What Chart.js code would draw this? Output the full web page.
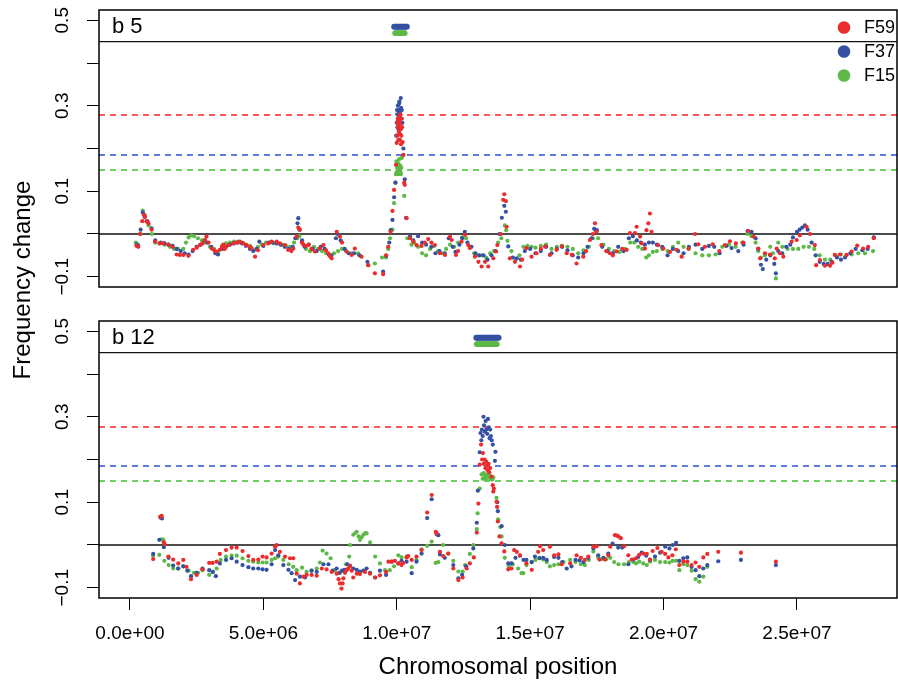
<!DOCTYPE html>
<html>
<head>
<meta charset="utf-8">
<script src="https://cdn.jsdelivr.net/npm/chart.js@4.4.0/dist/chart.umd.min.js"></script>
<style>
  html, body { margin: 0; padding: 0; background: #fff; }
  #wrap { position: relative; width: 898px; height: 686px; overflow: hidden; }
  canvas { position: absolute; left: 0; }
  #ytitle {
    position: absolute; left: -128px; top: 266px; width: 300px; height: 28px;
    line-height: 28px; text-align: center; color: #000;
    font: 24px "Liberation Sans", Arial, Helvetica, sans-serif;
    transform: rotate(-90deg);
  }
</style>
</head>
<body>
<div id="wrap">
  <canvas id="c1" width="898" height="300" style="top:0px"></canvas>
  <canvas id="c2" width="898" height="386" style="top:300px"></canvas>
  <div id="ytitle">Frequency change</div>
</div>
<script>
// series names (legend order) - positions in Mb, values = frequency change
const seriesNames = ['F59', 'F37', 'F15'];

// ---- chromosome b 5 ----
const b5_F59 = [[0.25,-0.028],[0.31,-0.03],[0.38,0.0],[0.46,0.03],[0.52,0.045],[0.56,0.04],[0.62,0.03],[0.69,0.025],[0.81,0.01],[0.94,-0.018],[1.12,-0.022],[1.24,-0.022],[1.44,-0.025],[1.6,-0.03],[1.75,-0.048],[1.87,-0.049],[2.0,-0.049],[2.19,-0.051],[2.37,-0.037],[2.5,-0.032],[2.62,-0.026],[2.72,-0.022],[2.81,-0.014],[2.87,-0.006],[2.95,-0.02],[3.06,-0.034],[3.16,-0.038],[3.25,-0.041],[3.37,-0.037],[3.45,-0.03],[3.5,-0.025],[3.55,-0.035],[3.6,-0.03],[3.7,-0.026],[3.87,-0.022],[4.0,-0.02],[4.12,-0.018],[4.25,-0.022],[4.37,-0.026],[4.5,-0.03],[4.56,-0.033],[4.69,-0.053],[4.8,-0.038],[5.0,-0.026],[5.18,-0.022],[5.31,-0.018],[5.5,-0.018],[5.62,-0.022],[5.81,-0.026],[5.93,-0.037],[6.05,-0.04],[6.12,-0.034],[6.25,-0.006],[6.31,0.015],[6.37,0.01],[6.45,-0.02],[6.5,-0.025],[6.6,-0.028],[6.7,-0.025],[6.8,-0.035],[6.93,-0.041],[7.12,-0.034],[7.25,-0.026],[7.35,-0.038],[7.43,-0.045],[7.5,-0.052],[7.56,-0.057],[7.75,0.005],[7.87,-0.006],[7.95,-0.02],[8.12,-0.041],[8.31,-0.049],[8.43,-0.034],[8.68,-0.053],[8.93,-0.073],[9.18,-0.092],[9.49,-0.094],[9.6,-0.05],[9.68,-0.03],[9.77,0.005],[9.84,0.054],[9.9,0.103],[9.97,0.162],[10.0,0.213],[10.01,0.26],[10.02,0.23],[10.04,0.27],[10.05,0.25],[10.06,0.22],[10.07,0.265],[10.08,0.24],[10.09,0.255],[10.1,0.275],[10.11,0.235],[10.12,0.22],[10.13,0.26],[10.14,0.28],[10.15,0.245],[10.16,0.21],[10.17,0.23],[10.19,0.27],[10.2,0.25],[10.22,0.215],[10.25,0.185],[10.28,0.12],[10.3,0.115],[10.37,0.037],[10.5,-0.01],[10.62,-0.018],[10.74,-0.026],[10.93,-0.028],[11.05,-0.02],[11.18,-0.012],[11.3,-0.02],[11.43,-0.026],[11.62,-0.045],[11.81,-0.049],[12.0,-0.006],[12.06,-0.014],[12.22,-0.049],[12.3,-0.04],[12.43,-0.018],[12.56,-0.002],[12.68,-0.026],[12.74,-0.033],[12.93,-0.053],[13.06,-0.065],[13.18,-0.076],[13.31,-0.065],[13.43,-0.076],[13.62,-0.057],[13.72,-0.041],[13.77,-0.026],[13.9,0.0],[13.99,0.08],[14.03,0.093],[14.09,0.077],[14.12,0.017],[14.24,-0.057],[14.43,-0.065],[14.62,-0.076],[14.7,-0.06],[14.86,-0.033],[15.05,-0.053],[15.24,-0.045],[15.4,-0.035],[15.56,-0.029],[15.74,-0.049],[15.99,-0.037],[16.18,-0.029],[16.37,-0.045],[16.56,-0.049],[16.74,-0.069],[16.99,-0.053],[17.1,-0.04],[17.24,-0.014],[17.35,0.0],[17.43,0.025],[17.49,0.005],[17.67,-0.026],[17.85,-0.04],[17.99,-0.045],[18.1,-0.05],[18.24,-0.041],[18.45,-0.035],[18.62,-0.037],[18.74,0.002],[18.93,0.002],[18.99,0.017],[19.12,-0.006],[19.18,-0.022],[19.3,-0.034],[19.36,0.009],[19.43,0.025],[19.49,0.048],[19.55,0.005],[19.8,-0.026],[19.99,-0.034],[20.24,-0.042],[20.49,-0.037],[20.68,-0.053],[20.93,-0.034],[21.18,0.0],[21.3,-0.024],[21.55,-0.03],[21.84,-0.024],[22.09,-0.04],[22.3,-0.026],[22.49,-0.017],[22.71,-0.022],[22.99,-0.02],[23.18,0.007],[23.37,-0.006],[23.55,-0.034],[23.62,-0.057],[23.8,-0.045],[23.99,-0.048],[24.17,-0.057],[24.24,-0.034],[24.36,-0.045],[24.49,-0.053],[24.8,-0.018],[24.99,-0.014],[25.11,-0.003],[25.36,0.017],[25.49,0.0],[25.67,-0.026],[25.72,-0.073],[25.86,-0.061],[26.05,-0.074],[26.24,-0.074],[26.33,-0.067],[26.42,-0.049],[26.61,-0.048],[26.86,-0.049],[27.05,-0.041],[27.26,-0.027],[27.48,-0.034],[27.67,-0.03],[27.88,-0.01]];

const b5_F37 = [[0.25,-0.025],[0.31,-0.028],[0.4,0.01],[0.48,0.05],[0.55,0.04],[0.65,0.03],[0.81,0.013],[0.95,-0.015],[1.15,-0.02],[1.3,-0.022],[1.45,-0.025],[1.6,-0.028],[1.75,-0.035],[1.9,-0.04],[2.05,-0.045],[2.2,-0.048],[2.35,-0.04],[2.5,-0.03],[2.65,-0.025],[2.8,-0.015],[2.9,-0.02],[3.05,-0.03],[3.2,-0.045],[3.3,-0.048],[3.45,-0.035],[3.6,-0.03],[3.75,-0.025],[3.9,-0.022],[4.05,-0.02],[4.2,-0.022],[4.35,-0.028],[4.5,-0.035],[4.62,-0.04],[4.75,-0.035],[4.85,-0.018],[5.0,-0.028],[5.2,-0.02],[5.35,-0.02],[5.5,-0.022],[5.65,-0.025],[5.8,-0.03],[5.95,-0.035],[6.1,-0.03],[6.2,-0.01],[6.28,0.025],[6.31,0.037],[6.35,0.01],[6.45,-0.015],[6.55,-0.03],[6.7,-0.025],[6.85,-0.035],[7.0,-0.04],[7.15,-0.03],[7.3,-0.035],[7.45,-0.048],[7.55,-0.05],[7.72,-0.01],[7.78,0.0],[7.9,-0.015],[8.05,-0.035],[8.2,-0.045],[8.4,-0.045],[8.6,-0.05],[8.9,-0.065],[9.49,-0.088],[9.6,-0.051],[9.72,-0.02],[9.77,0.009],[9.84,0.033],[9.9,0.086],[9.95,0.12],[9.98,0.23],[10.0,0.26],[10.01,0.29],[10.02,0.28],[10.03,0.25],[10.04,0.3],[10.05,0.265],[10.06,0.27],[10.07,0.245],[10.08,0.29],[10.09,0.305],[10.1,0.31],[10.11,0.285],[10.12,0.28],[10.13,0.26],[10.15,0.318],[10.16,0.295],[10.17,0.27],[10.19,0.29],[10.21,0.26],[10.25,0.2],[10.3,0.128],[10.35,0.038],[10.5,-0.005],[10.62,-0.015],[10.8,-0.005],[10.95,-0.02],[11.1,-0.025],[11.3,-0.03],[11.45,-0.045],[11.6,-0.04],[11.8,-0.045],[11.95,-0.01],[12.1,-0.03],[12.2,-0.042],[12.35,-0.025],[12.45,-0.01],[12.55,0.005],[12.65,-0.02],[12.8,-0.03],[12.95,-0.045],[13.1,-0.05],[13.25,-0.05],[13.4,-0.06],[13.55,-0.05],[13.7,-0.04],[13.85,0.0],[13.94,0.038],[14.03,0.066],[14.09,0.052],[14.18,-0.029],[14.35,-0.055],[14.5,-0.057],[14.65,-0.06],[14.8,-0.04],[15.0,-0.035],[15.2,-0.045],[15.4,-0.04],[15.6,-0.03],[15.8,-0.045],[16.0,-0.035],[16.2,-0.03],[16.4,-0.038],[16.6,-0.05],[16.8,-0.055],[17.0,-0.045],[17.15,-0.03],[17.3,-0.01],[17.4,0.012],[17.5,0.009],[17.7,-0.03],[17.9,-0.04],[18.1,-0.045],[18.3,-0.03],[18.5,-0.04],[18.7,-0.01],[18.85,-0.005],[19.0,-0.015],[19.15,-0.02],[19.3,-0.025],[19.45,-0.02],[19.6,-0.02],[19.75,-0.025],[19.95,-0.03],[20.15,-0.05],[20.35,-0.035],[20.55,-0.04],[20.75,-0.045],[20.95,-0.03],[21.2,-0.025],[21.45,-0.035],[21.7,-0.028],[21.9,-0.03],[22.1,-0.045],[22.35,-0.028],[22.55,-0.033],[22.8,-0.04],[23.0,-0.025],[23.15,0.007],[23.3,0.005],[23.45,-0.01],[23.55,-0.035],[23.65,-0.072],[23.72,-0.082],[23.85,-0.06],[24.0,-0.05],[24.15,-0.07],[24.21,-0.092],[24.3,-0.04],[24.45,-0.045],[24.6,-0.03],[24.75,-0.025],[24.85,-0.008],[25.0,0.005],[25.1,0.01],[25.2,0.015],[25.3,0.02],[25.4,0.01],[25.55,-0.02],[25.7,-0.05],[25.85,-0.065],[26.0,-0.07],[26.15,-0.07],[26.3,-0.065],[26.5,-0.055],[26.65,-0.06],[26.8,-0.055],[27.0,-0.045],[27.2,-0.035],[27.45,-0.038],[27.65,-0.035],[27.88,-0.008]];

const b5_F15 = [[0.22,-0.02],[0.3,-0.025],[0.4,0.0],[0.48,0.055],[0.55,0.045],[0.7,0.02],[0.82,0.0],[0.95,-0.02],[1.1,-0.022],[1.3,-0.025],[1.5,-0.03],[1.65,-0.035],[1.8,-0.035],[2.0,-0.035],[2.1,-0.02],[2.2,-0.008],[2.3,-0.003],[2.4,-0.005],[2.55,-0.01],[2.7,-0.015],[2.85,-0.02],[3.0,-0.03],[3.15,-0.035],[3.3,-0.045],[3.45,-0.028],[3.6,-0.022],[3.75,-0.02],[3.9,-0.018],[4.05,-0.018],[4.2,-0.02],[4.35,-0.025],[4.5,-0.028],[4.65,-0.038],[4.8,-0.03],[4.95,-0.025],[5.1,-0.02],[5.25,-0.02],[5.4,-0.022],[5.55,-0.022],[5.7,-0.025],[5.85,-0.028],[6.0,-0.03],[6.15,-0.02],[6.27,-0.01],[6.35,-0.005],[6.45,-0.02],[6.6,-0.035],[6.75,-0.04],[6.9,-0.03],[7.05,-0.035],[7.2,-0.04],[7.35,-0.045],[7.5,-0.05],[7.65,-0.045],[7.8,-0.04],[7.95,-0.035],[8.1,-0.04],[8.3,-0.045],[8.55,-0.045],[8.93,-0.073],[9.18,-0.069],[9.45,-0.055],[9.6,-0.055],[9.68,-0.035],[9.75,-0.01],[9.84,0.01],[9.9,0.072],[9.95,0.12],[9.97,0.14],[9.99,0.17],[10.0,0.145],[10.01,0.155],[10.03,0.145],[10.04,0.16],[10.05,0.165],[10.06,0.15],[10.07,0.14],[10.09,0.175],[10.1,0.16],[10.11,0.15],[10.13,0.16],[10.14,0.145],[10.15,0.14],[10.17,0.155],[10.19,0.178],[10.28,0.089],[10.4,-0.01],[10.55,-0.025],[10.65,-0.02],[10.8,-0.03],[10.95,-0.045],[11.1,-0.05],[11.25,-0.035],[11.4,-0.028],[11.55,-0.04],[11.7,-0.045],[11.85,-0.035],[12.0,-0.025],[12.15,-0.03],[12.3,-0.02],[12.45,-0.008],[12.6,-0.01],[12.75,-0.03],[12.9,-0.045],[13.05,-0.05],[13.2,-0.05],[13.35,-0.055],[13.5,-0.045],[13.65,-0.04],[13.8,-0.02],[13.92,-0.01],[14.05,0.02],[14.1,0.009],[14.15,-0.016],[14.3,-0.04],[14.45,-0.06],[14.6,-0.05],[14.75,-0.03],[14.9,-0.028],[15.05,-0.03],[15.2,-0.032],[15.4,-0.028],[15.6,-0.025],[15.8,-0.035],[16.0,-0.03],[16.2,-0.028],[16.4,-0.03],[16.6,-0.035],[16.8,-0.045],[17.0,-0.038],[17.2,-0.03],[17.35,-0.01],[17.45,0.008],[17.55,-0.01],[17.75,-0.025],[17.95,-0.035],[18.15,-0.04],[18.35,-0.042],[18.55,-0.035],[18.75,-0.02],[18.9,-0.02],[19.05,-0.03],[19.2,-0.035],[19.35,-0.055],[19.45,-0.05],[19.6,-0.042],[19.75,-0.04],[19.95,-0.035],[20.15,-0.04],[20.35,-0.03],[20.55,-0.02],[20.75,-0.03],[20.95,-0.035],[21.2,-0.045],[21.45,-0.05],[21.7,-0.05],[21.95,-0.048],[22.2,-0.03],[22.45,-0.025],[22.7,-0.03],[22.95,-0.02],[23.15,0.0],[23.3,-0.005],[23.45,-0.02],[23.55,-0.04],[23.65,-0.055],[23.8,-0.05],[24.0,-0.03],[24.1,-0.045],[24.21,-0.104],[24.3,-0.02],[24.45,-0.03],[24.65,-0.035],[24.85,-0.035],[25.05,-0.035],[25.25,-0.03],[25.45,-0.03],[25.65,-0.035],[25.85,-0.05],[26.05,-0.06],[26.25,-0.06],[26.45,-0.05],[26.65,-0.048],[26.85,-0.05],[27.05,-0.048],[27.3,-0.045],[27.55,-0.045],[27.85,-0.04]];

// significant positions shown in the top strip (F37, F15)
const b5_sigF37 = [9.9,9.94,9.98,10.02,10.06,10.1,10.14,10.18,10.22,10.26,10.3,10.34,10.38];
const b5_sigF15 = [9.94,9.98,10.02,10.06,10.1,10.14,10.18,10.22,10.26,10.3];
const b5_thresholds = [0.279, 0.185, 0.15];

// ---- chromosome b 12 ----
const b12_F59 = [[0.87,-0.033],[1.13,0.066],[1.19,0.068],[1.27,0.006],[1.3,0.002],[1.44,-0.027],[1.62,-0.034],[1.81,-0.043],[2.0,-0.035],[2.12,-0.051],[2.29,-0.08],[2.5,-0.07],[2.72,-0.057],[2.97,-0.042],[3.1,-0.042],[3.25,-0.039],[3.37,-0.021],[3.6,-0.012],[3.81,-0.006],[4.0,-0.006],[4.22,-0.014],[4.44,-0.026],[4.62,-0.035],[4.81,-0.034],[4.97,-0.027],[5.12,-0.029],[5.31,-0.02],[5.44,-0.004],[5.5,0.0],[5.62,-0.016],[5.81,-0.027],[6.0,-0.031],[6.12,-0.031],[6.25,-0.067],[6.37,-0.09],[6.5,-0.074],[6.62,-0.07],[6.81,-0.07],[7.0,-0.072],[7.19,-0.055],[7.37,-0.057],[7.56,-0.063],[7.75,-0.067],[7.82,-0.08],[7.87,-0.09],[7.93,-0.102],[7.97,-0.09],[8.0,-0.078],[8.06,-0.065],[8.12,-0.059],[8.18,-0.055],[8.25,-0.049],[8.31,-0.06],[8.37,-0.076],[8.5,-0.067],[8.62,-0.068],[8.81,-0.063],[9.0,-0.067],[9.19,-0.076],[9.37,-0.071],[9.6,-0.063],[9.69,-0.039],[9.81,-0.039],[9.93,-0.037],[10.06,-0.043],[10.18,-0.047],[10.24,-0.042],[10.37,-0.029],[10.43,-0.026],[10.56,-0.035],[10.74,-0.027],[10.93,-0.012],[11.14,0.076],[11.31,0.117],[11.46,0.031],[11.5,0.027],[11.62,-0.016],[11.74,-0.026],[11.93,-0.02],[12.12,-0.055],[12.31,-0.082],[12.47,-0.076],[12.62,-0.055],[12.74,-0.043],[12.89,-0.029],[13.0,0.029],[13.06,0.097],[13.11,0.188],[13.16,0.235],[13.2,0.2],[13.23,0.215],[13.26,0.19],[13.29,0.2],[13.32,0.18],[13.35,0.195],[13.38,0.185],[13.41,0.175],[13.44,0.19],[13.47,0.17],[13.5,0.18],[13.55,0.16],[13.6,0.14],[13.62,0.125],[13.64,0.132],[13.74,0.101],[13.76,0.089],[13.79,0.055],[13.85,0.02],[13.93,0.004],[14.03,-0.015],[14.18,-0.057],[14.3,-0.055],[14.4,-0.012],[14.5,-0.016],[14.62,-0.024],[14.86,-0.043],[15.06,-0.058],[15.3,-0.016],[15.37,-0.003],[15.49,-0.012],[15.74,-0.004],[15.9,-0.024],[16.06,-0.022],[16.18,-0.045],[16.5,-0.043],[16.74,-0.024],[16.9,-0.03],[17.05,-0.035],[17.18,-0.027],[17.37,-0.004],[17.49,-0.003],[17.6,-0.034],[17.81,-0.034],[17.93,-0.024],[18.0,-0.004],[18.18,0.023],[18.25,0.022],[18.31,0.02],[18.4,0.016],[18.52,-0.003],[18.68,-0.024],[18.81,-0.034],[18.97,-0.031],[19.09,-0.023],[19.24,-0.02],[19.37,-0.021],[19.49,-0.034],[19.59,-0.014],[19.77,-0.007],[19.93,-0.016],[20.06,-0.021],[20.18,-0.029],[20.33,-0.024],[20.46,-0.01],[20.59,-0.047],[20.74,-0.039],[20.89,-0.039],[21.05,-0.047],[21.2,-0.041],[21.34,-0.051],[21.49,-0.029],[21.64,-0.021],[22.05,-0.016],[22.9,-0.018],[24.21,-0.039]];

const b12_F37 = [[0.87,-0.021],[1.1,0.012],[1.15,0.064],[1.2,0.062],[1.27,-0.005],[1.45,-0.03],[1.62,-0.048],[1.81,-0.055],[2.0,-0.05],[2.15,-0.06],[2.29,-0.073],[2.5,-0.065],[2.72,-0.055],[2.97,-0.059],[3.1,-0.063],[3.22,-0.073],[3.37,-0.043],[3.6,-0.035],[3.81,-0.031],[4.0,-0.039],[4.22,-0.047],[4.44,-0.052],[4.62,-0.055],[4.81,-0.055],[4.97,-0.057],[5.12,-0.058],[5.31,-0.045],[5.44,-0.012],[5.56,-0.024],[5.75,-0.047],[5.94,-0.058],[6.06,-0.066],[6.19,-0.082],[6.37,-0.074],[6.56,-0.076],[6.81,-0.06],[7.0,-0.063],[7.25,-0.045],[7.44,-0.045],[7.6,-0.06],[7.75,-0.055],[7.85,-0.065],[7.95,-0.06],[8.05,-0.058],[8.15,-0.045],[8.25,-0.049],[8.37,-0.055],[8.5,-0.058],[8.62,-0.062],[8.75,-0.06],[8.87,-0.055],[9.0,-0.065],[9.19,-0.076],[9.37,-0.06],[9.6,-0.07],[9.81,-0.039],[10.06,-0.043],[10.18,-0.037],[10.37,-0.039],[10.56,-0.066],[10.74,-0.039],[10.93,-0.02],[11.14,0.063],[11.31,0.107],[11.5,0.025],[11.56,0.023],[11.62,-0.022],[11.8,-0.03],[12.12,-0.047],[12.31,-0.078],[12.45,-0.07],[12.6,-0.05],[12.87,-0.008],[13.0,0.052],[13.04,0.127],[13.11,0.217],[13.14,0.262],[13.17,0.245],[13.19,0.27],[13.22,0.255],[13.25,0.3],[13.27,0.28],[13.3,0.265],[13.33,0.29],[13.36,0.27],[13.39,0.26],[13.42,0.295],[13.45,0.275],[13.48,0.25],[13.5,0.27],[13.53,0.255],[13.56,0.245],[13.6,0.235],[13.68,0.197],[13.7,0.218],[13.77,0.1],[13.79,0.079],[13.93,0.044],[14.05,0.0],[14.18,-0.043],[14.3,-0.043],[14.45,-0.03],[14.62,-0.025],[14.75,-0.035],[14.86,-0.035],[15.06,-0.04],[15.18,-0.027],[15.35,-0.031],[15.49,-0.03],[15.62,-0.035],[15.9,-0.028],[16.06,-0.03],[16.2,-0.04],[16.37,-0.055],[16.55,-0.05],[16.7,-0.035],[16.85,-0.036],[17.0,-0.04],[17.18,-0.03],[17.37,-0.008],[17.55,-0.024],[17.75,-0.03],[17.93,-0.02],[18.09,0.003],[18.3,-0.006],[18.45,-0.006],[18.68,-0.045],[18.87,-0.034],[19.05,-0.028],[19.18,-0.018],[19.35,-0.025],[19.5,-0.035],[19.68,-0.027],[19.87,-0.018],[20.06,-0.004],[20.22,-0.008],[20.34,0.0],[20.47,0.005],[20.59,-0.037],[20.74,-0.031],[20.89,-0.029],[21.05,-0.051],[21.2,-0.059],[21.34,-0.073],[21.49,-0.055],[21.64,-0.047],[22.05,-0.038],[22.9,-0.035],[24.21,-0.047]];

const b12_F15 = [[0.87,-0.025],[1.1,-0.023],[1.19,0.013],[1.25,0.012],[1.29,-0.037],[1.45,-0.047],[1.62,-0.055],[1.8,-0.055],[2.0,-0.05],[2.2,-0.06],[2.4,-0.065],[2.55,-0.065],[2.72,-0.059],[2.97,-0.07],[3.12,-0.063],[3.25,-0.055],[3.4,-0.035],[3.6,-0.027],[3.81,-0.025],[4.0,-0.025],[4.22,-0.031],[4.44,-0.037],[4.62,-0.039],[4.81,-0.041],[4.97,-0.041],[5.12,-0.041],[5.31,-0.035],[5.44,-0.031],[5.56,-0.027],[5.75,-0.035],[5.95,-0.045],[6.12,-0.051],[6.25,-0.059],[6.45,-0.053],[6.62,-0.063],[6.8,-0.06],[7.0,-0.055],[7.12,-0.041],[7.22,-0.013],[7.37,-0.02],[7.52,-0.031],[7.68,-0.059],[7.87,-0.065],[8.0,-0.06],[8.1,-0.045],[8.22,-0.027],[8.25,0.0],[8.37,0.024],[8.45,0.028],[8.5,0.031],[8.57,0.02],[8.62,0.012],[8.68,0.018],[8.75,0.024],[8.82,0.028],[8.87,0.027],[9.0,0.006],[9.19,-0.027],[9.37,-0.043],[9.56,-0.059],[9.74,-0.059],[9.9,-0.05],[10.06,-0.024],[10.18,-0.029],[10.37,-0.027],[10.56,-0.052],[10.74,-0.035],[10.93,-0.01],[11.14,-0.002],[11.31,0.008],[11.46,-0.042],[11.56,-0.04],[11.74,0.0],[11.93,-0.02],[12.12,-0.037],[12.31,-0.062],[12.47,-0.062],[12.56,-0.047],[12.74,-0.021],[12.87,0.0],[13.0,0.037],[13.03,0.074],[13.11,0.132],[13.18,0.165],[13.22,0.155],[13.26,0.168],[13.3,0.16],[13.34,0.155],[13.38,0.165],[13.42,0.158],[13.46,0.162],[13.5,0.155],[13.54,0.16],[13.58,0.153],[13.62,0.158],[13.74,0.11],[13.8,0.06],[13.88,0.042],[13.93,0.02],[14.05,-0.03],[14.2,-0.05],[14.35,-0.045],[14.55,-0.055],[14.68,-0.066],[14.74,-0.066],[14.86,-0.047],[15.05,-0.04],[15.2,-0.035],[15.35,-0.03],[15.49,-0.034],[15.62,-0.04],[15.74,-0.05],[15.9,-0.047],[16.06,-0.045],[16.25,-0.04],[16.5,-0.035],[16.7,-0.04],[16.9,-0.045],[17.05,-0.047],[17.2,-0.035],[17.37,-0.015],[17.55,-0.03],[17.7,-0.033],[17.85,-0.033],[18.0,-0.03],[18.15,-0.04],[18.31,-0.045],[18.52,-0.045],[18.7,-0.04],[18.87,-0.04],[18.97,-0.043],[19.09,-0.039],[19.24,-0.043],[19.37,-0.047],[19.49,-0.039],[19.68,-0.035],[19.87,-0.04],[20.06,-0.04],[20.22,-0.041],[20.34,-0.037],[20.47,-0.037],[20.59,-0.059],[20.74,-0.045],[20.89,-0.047],[21.05,-0.06],[21.2,-0.08],[21.34,-0.086],[21.49,-0.074],[21.64,-0.051]];

const b12_sigF37 = [12.98,13.02,13.06,13.1,13.14,13.18,13.22,13.26,13.3,13.34,13.38,13.42,13.46,13.5,13.54,13.58,13.62,13.66,13.7,13.74,13.78,13.82];
const b12_sigF15 = [13.0,13.04,13.08,13.12,13.16,13.2,13.24,13.28,13.32,13.36,13.4,13.44,13.48,13.52,13.56,13.6,13.64,13.68,13.72,13.75];
const b12_thresholds = [0.277, 0.185, 0.15];

const sigLevels = [0.485, 0.47];      // strip heights for F37, F15
const refLines = [0, 0.45];            // solid lines: zero and strip separator
const xTicks = [0, 5, 10, 15, 20, 25]; // Mb
const yTicks = [-0.1, 0, 0.1, 0.2, 0.3, 0.4, 0.5];

const FONT = '"Liberation Sans", Arial, Helvetica, sans-serif';
const COLORS = ['#ec2c2c', '#3451a3', '#5cb947'];
const DASH_COLORS = ['#ff2020', '#2850d0', '#40c030'];

function fmtSci(v) {
  const s = (v * 1e6).toExponential(1);
  return s.replace(/e([+-])(\d)$/, (m, sg, d) => 'e' + sg + '0' + d);
}
function fmtY(v) {
  const k = Math.round(v * 10);
  if (k % 2 === 0) return '';
  return (k < 0 ? '\u2212' : '') + Math.abs(v).toFixed(1);
}

const panelDeco = {
  id: 'panelDeco',
  beforeDatasetsDraw(chart, args, o) {
    const { ctx, chartArea: a, scales: { y } } = chart;
    ctx.save();
    ctx.lineWidth = 1.5;
    ctx.setLineDash([6, 5]);
    o.thresholds.forEach((v, i) => {
      const py = Math.round(y.getPixelForValue(v));
      ctx.strokeStyle = DASH_COLORS[i];
      ctx.beginPath(); ctx.moveTo(a.left, py); ctx.lineTo(a.right, py); ctx.stroke();
    });
    ctx.setLineDash([]);
    ctx.strokeStyle = '#111';
    ctx.lineWidth = 1.4;
    refLines.forEach(v => {
      const py = y.getPixelForValue(v);
      ctx.beginPath(); ctx.moveTo(a.left, py); ctx.lineTo(a.right, py); ctx.stroke();
    });
    ctx.restore();
  },
  afterDatasetsDraw(chart, args, o) {
    const { ctx, chartArea: a } = chart;
    ctx.save();
    ctx.strokeStyle = '#000';
    ctx.lineWidth = 1.5;
    ctx.strokeRect(a.left, a.top, a.right - a.left, a.bottom - a.top);
    ctx.fillStyle = '#000';
    ctx.font = '22px ' + FONT;
    ctx.textBaseline = 'alphabetic';
    ctx.fillText(o.label, a.left + 13, a.top + 23);
    if (o.legend) {
      ctx.font = '18px ' + FONT;
      ctx.textBaseline = 'middle';
      seriesNames.forEach((name, i) => {
        const cy = a.top + 17.5 + 24 * i;
        ctx.fillStyle = COLORS[i];
        ctx.beginPath(); ctx.arc(a.right - 53, cy, 6.3, 0, Math.PI * 2); ctx.fill();
        ctx.fillStyle = '#000';
        ctx.fillText(name, a.right - 33, cy + 1);
      });
    }
    ctx.restore();
  }
};

function makePanel(id, label, series, sigs, thresholds, showX, legend) {
  const datasets = series.map((d, i) => ({
    label: seriesNames[i],
    data: d.map(p => ({ x: p[0], y: p[1] })),
    backgroundColor: COLORS[i],
    pointRadius: 2.1,
    pointBorderWidth: 0,
    pointHoverRadius: 2.1
  }));
  sigs.forEach((xs, k) => {
    datasets.push({
      label: seriesNames[k + 1] + ' sig',
      data: xs.map(x => ({ x: x, y: sigLevels[k] })),
      backgroundColor: COLORS[k + 1],
      pointRadius: 2.9,
      pointBorderWidth: 0
    });
  });

  return new Chart(document.getElementById(id), {
    type: 'scatter',
    data: { datasets },
    options: {
      responsive: false,
      animation: false,
      events: [],
      layout: {
        autoPadding: false,
        padding: showX ? { top: 21, right: 1, bottom: 0, left: 0 } : { top: 10, right: 1, bottom: 13, left: 0 }
      },
      plugins: {
        legend: { display: false },
        tooltip: { enabled: false },
        panelDeco: { label: label, thresholds: thresholds, legend: legend }
      },
      scales: {
        x: {
          type: 'linear', min: -1.16, max: 28.75, display: showX,
          afterBuildTicks: s => { s.ticks = xTicks.map(v => ({ value: v })); },
          afterFit: s => {
            s.height = showX ? 88 : 0;
            s.paddingLeft = 0; s.paddingRight = 0;
          },
          grid: { drawOnChartArea: false, drawTicks: true, tickLength: 12, color: '#000', lineWidth: 1 },
          border: { display: false },
          ticks: { font: { family: FONT, size: 19 }, color: '#000', padding: 12, maxRotation: 0, autoSkip: false, callback: v => fmtSci(v) },
          title: { display: true, text: 'Chromosomal position', color: '#000', font: { family: FONT, size: 24 }, padding: { top: 0, bottom: 4 } }
        },
        y: {
          type: 'linear', min: -0.124, max: 0.524,
          afterBuildTicks: s => { s.ticks = yTicks.map(v => ({ value: v })); },
          afterFit: s => {
            s.width = 99;
            s.paddingTop = 0; s.paddingBottom = 0;
          },
          grid: { drawOnChartArea: false, drawTicks: true, tickLength: 12, color: '#000', lineWidth: 1 },
          border: { display: false },
          ticks: { minRotation: 90, maxRotation: 90, crossAlign: 'center', padding: 5, autoSkip: false,
                   font: { family: FONT, size: 19 }, color: '#000', callback: v => fmtY(v) }
        }
      }
    },
    plugins: [panelDeco]
  });
}

makePanel('c1', 'b 5', [b5_F59, b5_F37, b5_F15], [b5_sigF37, b5_sigF15], b5_thresholds, false, true);
makePanel('c2', 'b 12', [b12_F59, b12_F37, b12_F15], [b12_sigF37, b12_sigF15], b12_thresholds, true, false);
</script>
</body>
</html>
